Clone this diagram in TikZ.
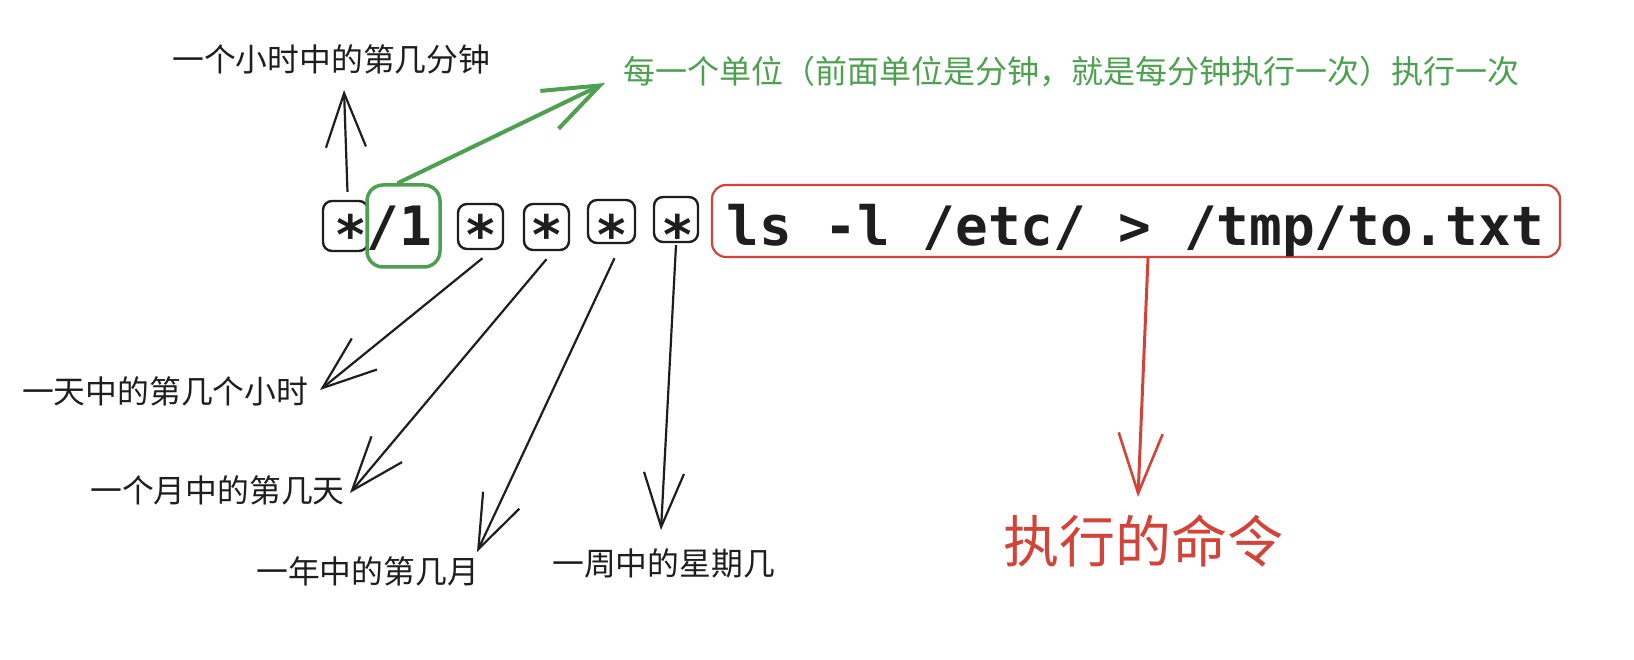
\documentclass[tikz,border=0pt]{standalone}
\usepackage{fontspec}
\newfontfamily\cjk{Noto Sans CJK SC}
\newfontfamily\codefont{DejaVu Sans Mono}
\usetikzlibrary{arrows.meta}
\definecolor{ink}{HTML}{1E1E1E}
\definecolor{grn}{RGB}{76,160,80}
\definecolor{rd}{RGB}{210,68,58}
\newcommand\lowstar{\raisebox{-9pt}{*}}
\begin{document}
\begin{tikzpicture}[x=1pt,y=-1pt,
  starbox/.style={draw=ink, line width=2.4pt, rounded corners=9pt, inner sep=0pt},
  gbox/.style={draw=grn, line width=3.5pt, rounded corners=16pt, inner sep=0pt},
  rbox/.style={draw=rd, line width=2.2pt, rounded corners=14pt, inner sep=0pt},
  codetext/.style={font=\codefont\bfseries\fontsize{54.3}{60}\selectfont, text=ink, inner sep=0pt},
  lbl/.style={font=\cjk\fontsize{31.8}{36}\selectfont, text=ink, inner sep=0pt},
  glbl/.style={font=\cjk\fontsize{32}{36}\selectfont, text=grn, inner sep=0pt},
  rlbl/.style={font=\cjk\fontsize{56}{60}\selectfont, text=rd, inner sep=0pt},
  arr/.style={draw=ink, line width=2.2pt, -{Straight Barb[length=54pt, width=40pt, line width=2.2pt]}},
  garr/.style={draw=grn, line width=4pt, -{Straight Barb[length=56pt, width=42pt, line width=4pt]}},
  rarr/.style={draw=rd, line width=3pt, -{Straight Barb[length=60pt, width=44pt, line width=2.6pt]}}
]
\useasboundingbox[fill=white] (0,0) rectangle (1634,660);

% boxes
\node[starbox, minimum width=45pt, minimum height=50pt] (b1) at (345.5,226) {};
\node[gbox, minimum width=73pt, minimum height=82pt] (g) at (403.5,226) {};
\node[starbox, minimum width=45pt, minimum height=45pt] (b2) at (480.5,226.5) {};
\node[starbox, minimum width=45pt, minimum height=46pt] (b3) at (546.5,227) {};
\node[starbox, minimum width=47pt, minimum height=43pt] (b4) at (611.5,221.5) {};
\node[starbox, minimum width=44pt, minimum height=45pt] (b5) at (676,219.5) {};
\node[rbox, minimum width=848pt, minimum height=72pt] (cmd) at (1136,221) {};

% command text
\node[codetext, anchor=base west] (code) at (334,246) {\lowstar/1 \lowstar{} \lowstar{} \lowstar{} \lowstar{} ls -l /etc/ > /tmp/to.txt};

% labels
\node[lbl, anchor=west] (lmin) at (172,59) {一个小时中的第几分钟};
\node[lbl, anchor=west] (lhour) at (22,391) {一天中的第几个小时};
\node[lbl, anchor=west] (lday) at (90,490) {一个月中的第几天};
\node[lbl, anchor=west] (lmon) at (256,571) {一年中的第几月};
\node[lbl, anchor=west] (lweek) at (552,563) {一周中的星期几};
\node[glbl, anchor=west] (lunit) at (623,72) {每一个单位（前面单位是分钟，就是每分钟执行一次）执行一次};
\node[rlbl, anchor=west] (lcmd) at (1003,541) {执行的命令};

% arrow tips
\coordinate (tmin) at (344,90);
\coordinate (thour) at (320,390);
\coordinate (tday) at (350,493);
\coordinate (tmon) at (477,552);
\coordinate (tweek) at (661,530);
\coordinate (tunit) at (605,83);
\coordinate (tcmd) at (1138,497);

% connectors
\draw[arr] ([xshift=2pt,yshift=8pt]b1.north) -- (tmin);
\draw[arr] ([xshift=2pt,yshift=-8pt]b2.south) -- (thour);
\draw[arr] ([yshift=-8pt]b3.south) -- (tday);
\draw[arr] ([xshift=3pt,yshift=-14pt]b4.south) -- (tmon);
\draw[arr] ([yshift=-2pt]b5.south) -- (tweek);
\draw[garr] ([xshift=-6pt]g.north) -- (tunit);
\draw[rarr] ([xshift=12pt]cmd.south) -- (tcmd);
\end{tikzpicture}
\end{document}
